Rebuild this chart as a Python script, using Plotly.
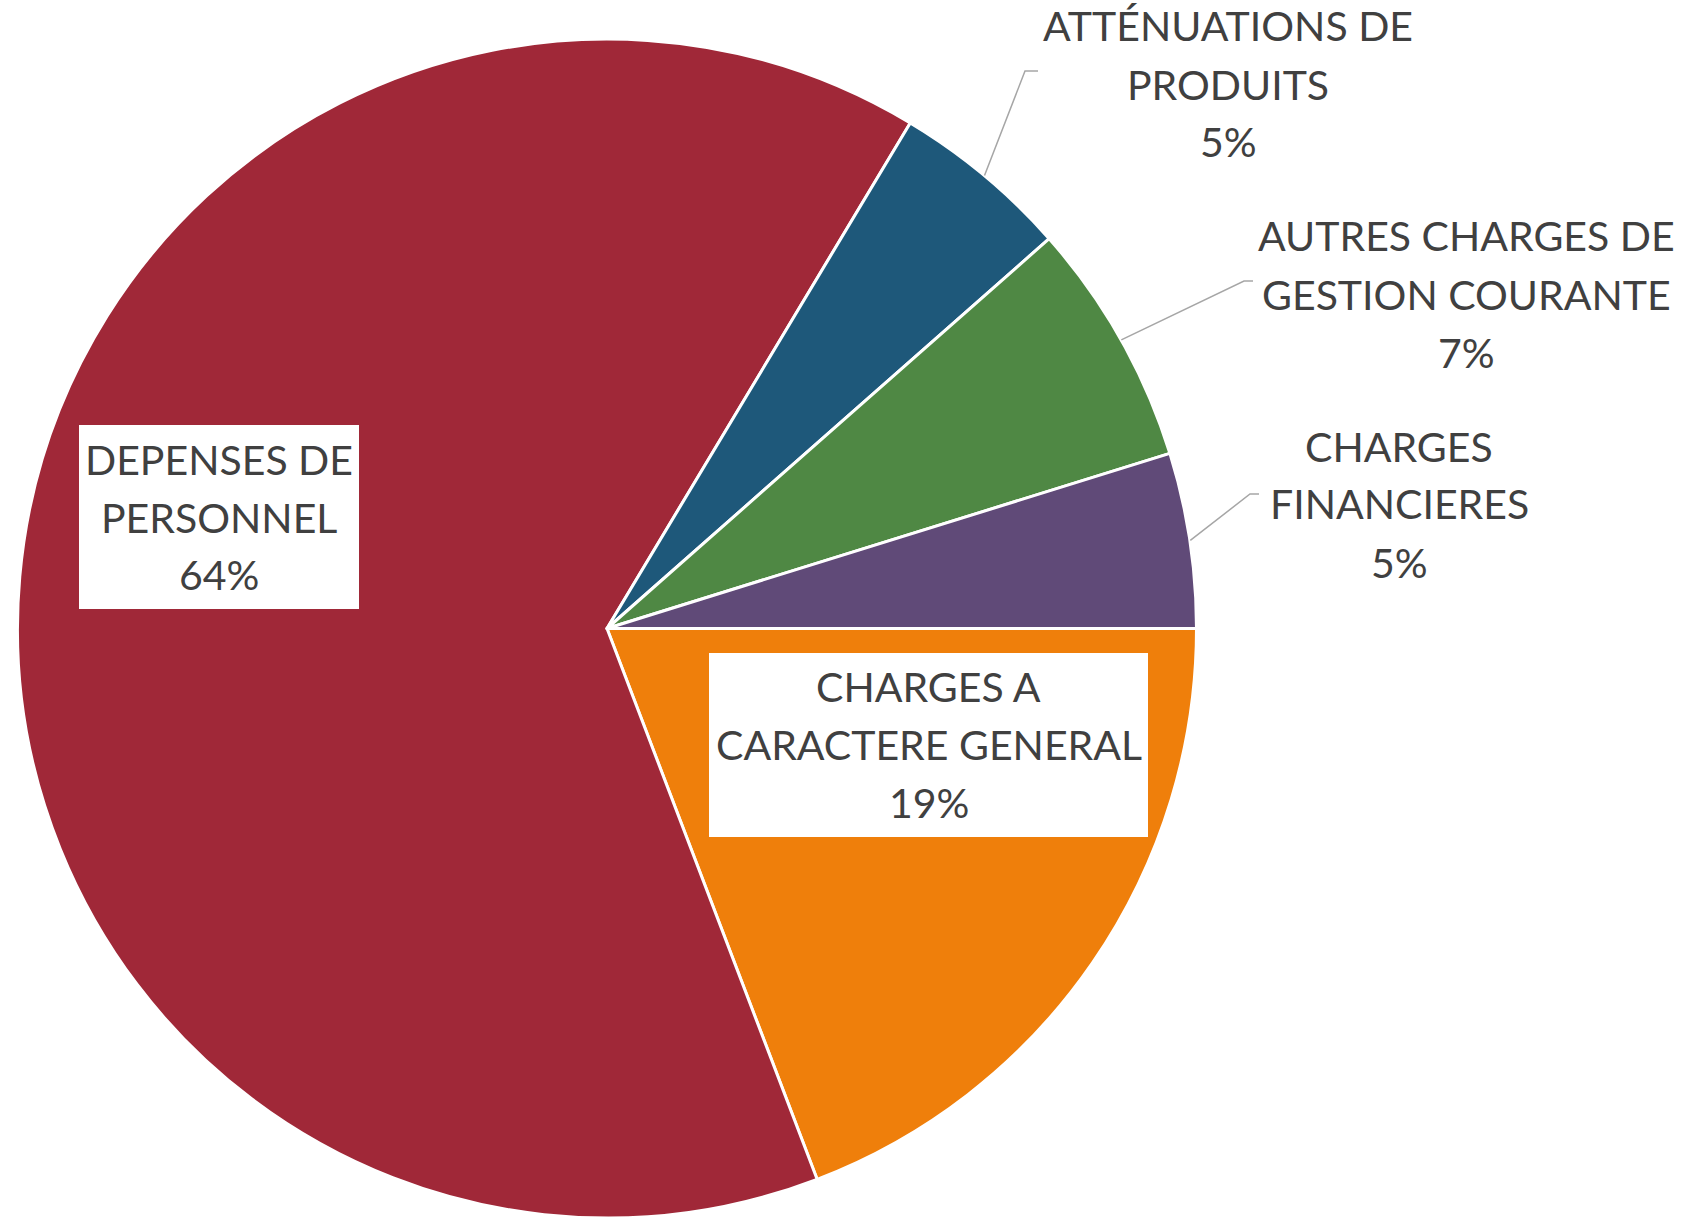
import math
import plotly.graph_objects as go

# ---------------- data ----------------
categories = [
    "CHARGES A CARACTERE GENERAL",
    "DEPENSES DE PERSONNEL",
    "ATTÉNUATIONS DE PRODUITS",
    "AUTRES CHARGES DE GESTION COURANTE",
    "CHARGES FINANCIERES",
]
label_lines = [
    ["CHARGES A", "CARACTERE GENERAL"],
    ["DEPENSES DE", "PERSONNEL"],
    ["ATTÉNUATIONS DE", "PRODUITS"],
    ["AUTRES CHARGES DE", "GESTION COURANTE"],
    ["CHARGES", "FINANCIERES"],
]
values = [19.2, 64.4, 4.9, 6.7, 4.8]
colors = ["#EF7F0B", "#A02838", "#1E587A", "#4F8844", "#604A78"]

# ---------------- layout (pixels) ----------------
W, H = 1701, 1218
CX, CY, R = 607, 629, 590
FONT = "Lato"
FSIZE = 41
TXT = "#404040"
LINE_GAP = 58

# label placement: centre x, first baseline y, white box (x0,y0,x1,y1) or None, leader elbow (x,y) & end x or None
placement = [
    dict(x=928.5, y=702, box=(709, 653, 1148, 837), elbow=None),
    dict(x=219, y=475, box=(79, 425, 359, 609), elbow=None),
    dict(x=1228, y=42, box=None, elbow=(1025, 71, 1038)),
    dict(x=1466, y=252, box=None, elbow=(1244, 281, 1253)),
    dict(x=1399, y=462, box=None, elbow=(1250, 494, 1259)),
]


def px(x):
    return x / W


def py(y):
    return 1 - y / H


fig = go.Figure(
    go.Pie(
        labels=categories,
        values=values,
        sort=False,
        direction="clockwise",
        rotation=90,
        marker=dict(colors=colors, line=dict(color="white", width=3)),
        textinfo="none",
        hoverinfo="label+percent",
        showlegend=False,
        domain=dict(
            x=[px(CX - R), px(CX + R)],
            y=[0, py(CY - R)],
        ),
    )
)

total = sum(values)
shapes = []
annotations = []
cum = 0.0
for lines, v, pl in zip(label_lines, values, placement):
    frac_mid = (cum + v / 2) / total
    cum += v
    pct = f"{round(v / total * 100)}%"
    texts = lines + [pct]
    if pl["box"] is not None:
        x0, y0, x1, y1 = pl["box"]
        shapes.append(dict(type="rect", xref="paper", yref="paper",
                           x0=px(x0), x1=px(x1), y0=py(y1), y1=py(y0),
                           fillcolor="white", line=dict(width=0), layer="above"))
    if pl["elbow"] is not None:
        ang = math.radians(360 * frac_mid)
        sx = CX + R * math.cos(ang)
        sy = CY + R * math.sin(ang)
        ex, ey, endx = pl["elbow"]
        path = f"M {px(sx)} {py(sy)} L {px(ex)} {py(ey)} L {px(endx)} {py(ey)}"
        shapes.append(dict(type="path", xref="paper", yref="paper", path=path,
                           line=dict(color="#A6A6A6", width=1.5), layer="above"))
    for i, t in enumerate(texts):
        baseline = pl["y"] + i * LINE_GAP
        annotations.append(dict(
            text=t, xref="paper", yref="paper",
            x=px(pl["x"]), y=py(baseline - 16),
            xanchor="center", yanchor="middle", showarrow=False,
            font=dict(family=FONT, size=FSIZE, color=TXT),
        ))

fig.update_layout(
    width=W, height=H,
    margin=dict(l=0, r=0, t=0, b=0),
    paper_bgcolor="white",
    plot_bgcolor="white",
    shapes=shapes,
    annotations=annotations,
)

fig.write_html(
    "out.html",
    config={"displayModeBar": False},
    post_script="document.body.style.margin='0';document.body.style.overflow='hidden';",
)
